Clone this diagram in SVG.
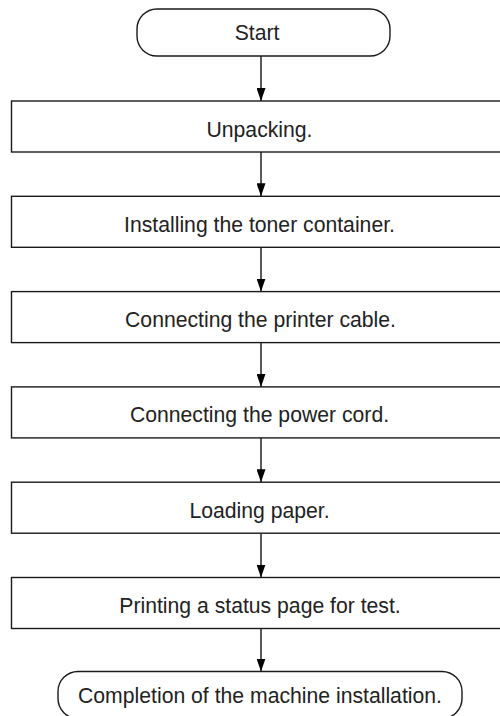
<svg xmlns="http://www.w3.org/2000/svg" width="500" height="716" viewBox="0 0 500 716">
  <style>
    .shape { fill: #ffffff; stroke: #1a1a1a; stroke-width: 1.4; }
    .label { font-family: "Liberation Sans", Arial, sans-serif; font-size: 21.2px; fill: #222222; text-anchor: middle; }
    .conn { stroke: #000000; stroke-width: 1.3; fill: none; marker-end: url(#arrow); }
  </style>
  <defs>
    <marker id="arrow" markerWidth="13" markerHeight="9" refX="13" refY="4.5" orient="auto" markerUnits="userSpaceOnUse" viewBox="0 0 13 9">
      <path d="M0,0 L13,4.5 L0,9 Z" fill="#000000"/>
    </marker>
  </defs>
  <rect width="500" height="716" fill="#ffffff"/>
  <g id="connectors">
    <line class="conn" x1="261" y1="56" x2="261" y2="101"/>
    <line class="conn" x1="261" y1="152" x2="261" y2="196.3"/>
    <line class="conn" x1="261" y1="247.3" x2="261" y2="291.6"/>
    <line class="conn" x1="261" y1="342.6" x2="261" y2="386.9"/>
    <line class="conn" x1="261" y1="437.9" x2="261" y2="482.2"/>
    <line class="conn" x1="261" y1="533.2" x2="261" y2="577.5"/>
    <line class="conn" x1="261" y1="628.5" x2="261" y2="671.5"/>
  </g>
  <g id="start">
    <rect class="shape" x="137" y="9" width="253" height="47" rx="20" ry="20"/>
    <text class="label" x="257" y="39.5">Start</text>
  </g>
  <g id="unpacking">
    <rect class="shape" x="11.5" y="101" width="500" height="51"/>
    <text class="label" x="259.5" y="136.5">Unpacking.</text>
  </g>
  <g id="toner">
    <rect class="shape" x="11.5" y="196.3" width="500" height="51"/>
    <text class="label" x="259.5" y="231.8">Installing the toner container.</text>
  </g>
  <g id="printer-cable">
    <rect class="shape" x="11.5" y="291.6" width="500" height="51"/>
    <text class="label" x="260.5" y="327.1">Connecting the printer cable.</text>
  </g>
  <g id="power-cord">
    <rect class="shape" x="11.5" y="386.9" width="500" height="51"/>
    <text class="label" x="259.5" y="422.4">Connecting the power cord.</text>
  </g>
  <g id="loading-paper">
    <rect class="shape" x="11.5" y="482.2" width="500" height="51"/>
    <text class="label" x="259.5" y="517.7">Loading paper.</text>
  </g>
  <g id="status-page">
    <rect class="shape" x="11.5" y="577.5" width="500" height="51"/>
    <text class="label" x="260" y="613">Printing a status page for test.</text>
  </g>
  <g id="completion">
    <rect class="shape" x="58" y="671.5" width="404" height="47" rx="20" ry="20"/>
    <text class="label" x="260" y="703">Completion of the machine installation.</text>
  </g>
</svg>
